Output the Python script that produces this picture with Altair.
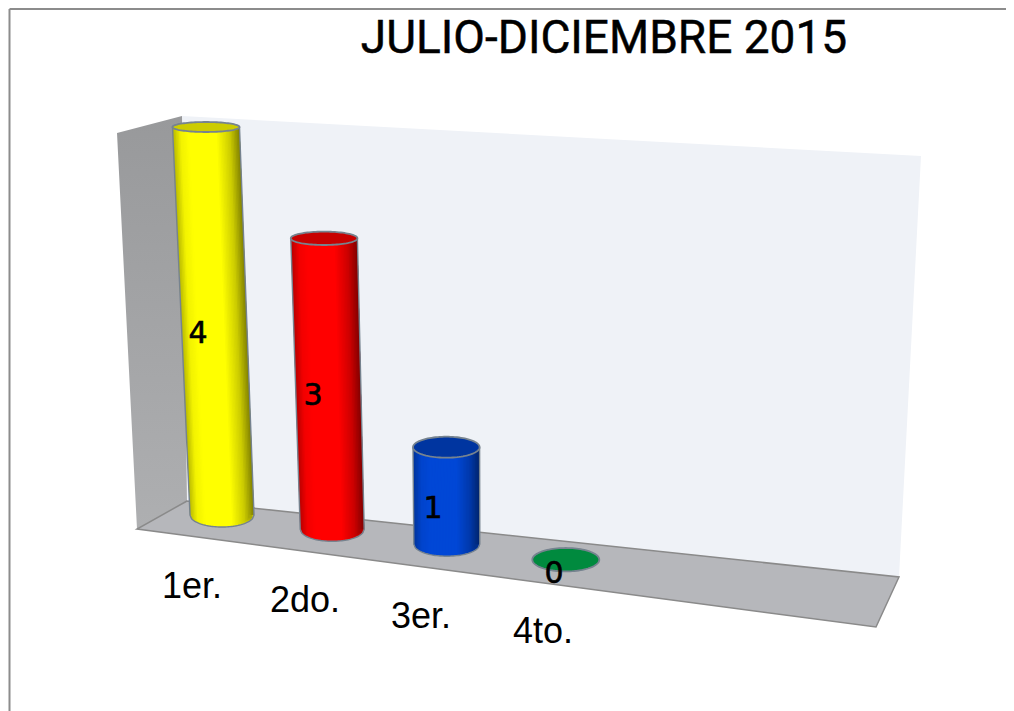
import math
import altair as alt
import numpy as np
import pandas as pd

TITLE = "JULIO-DICIEMBRE 2015"
CATEGORIES = ["1er.", "2do.", "3er.", "4to."]
VALUES = [4, 3, 1, 0]
BODY_COLORS = [(255, 255, 0), (255, 0, 0), (0, 71, 214), (0, 138, 62)]
CAP_COLORS = ["#cccc00", "#c80000", "#0035a0", "#008a3e"]

# picture-space projection of the 3-D box
UNIT = 97.0
LEAN = [-4.0, -2.7, -0.5, 0.0]
BASE_R = [32.0, 32.0, 33.0, 33.5]
TOP_R = [33.5, 33.3, 33.3, 33.5]
CAP_RY = [5.0, 6.7, 10.5, 11.7]
BASE_RY = 12.0
LEFT_WALL = [(117, 133), (182, 116), (187, 501), (137, 529)]
BACK_WALL = [(182, 116), (921, 156), (899, 577), (187, 501)]
FLOOR = [(137, 529), (187, 501), (899, 577), (876, 627)]
LABEL_POS = [(192, 587), (305, 601), (421, 617), (543, 632)]
VALUE_POS = [(198, 334), (313, 396), (433, 509), (554, 574)]
SHADE_T = [0.0, 0.12, 0.25, 0.65, 0.85, 1.0]
SHADE_F = [0.72, 0.95, 1.0, 1.0, 0.8, 0.5]


def base_x(i):
    return 222 + 108 * i + 2.2 * i * i


def base_y(i):
    return 515 + 14 * i + 0.3 * i * i


def polygon(points):
    """Convex polygon as left/right chains over its sorted y breakpoints."""
    ys = sorted({p[1] for p in points})
    rows = []
    n = len(points)
    for y in ys:
        xs = []
        for k in range(n):
            (x0, y0), (x1, y1) = points[k], points[(k + 1) % n]
            if min(y0, y1) <= y <= max(y0, y1):
                if y0 == y1:
                    xs += [x0, x1]
                else:
                    xs.append(x0 + (y - y0) * (x1 - x0) / (y1 - y0))
        rows.append({"y": y, "x": min(xs), "x2": max(xs)})
    return pd.DataFrame(rows)


def ellipse(cx, cy, rx, ry, n=48):
    rows = []
    for k in range(n + 1):
        a = -math.pi / 2 + math.pi * k / n
        rows.append({"y": cy + ry * math.sin(a), "x": cx - rx * math.cos(a), "x2": cx + rx * math.cos(a)})
    return pd.DataFrame(rows)


X = alt.X("x:Q", scale=alt.Scale(domain=[8, 1006], nice=False, zero=False), axis=None)
Y = alt.Y("y:Q", scale=alt.Scale(domain=[8, 711], nice=False, zero=False, reverse=True), axis=None)
X2 = alt.X2("x2:Q")


def area(df, **kw):
    return alt.Chart(df).mark_area(orient="horizontal", **kw).encode(x=X, x2=X2, y=Y)


layers = []
layers.append(area(polygon(BACK_WALL), color="#eff2f7"))
layers.append(area(polygon(LEFT_WALL), color=alt.Gradient(
    gradient="linear", x1=0, x2=0, y1=0, y2=1,
    stops=[alt.GradientStop(offset=0, color="#98999b"), alt.GradientStop(offset=1, color="#aeafb1")])))
layers.append(area(polygon(FLOOR), color="#b6b7bb", stroke="#8a8a8a", strokeWidth=1.5))

strips, outline = [], []
for i, v in enumerate(VALUES):
    if v <= 0:
        continue
    bx, by = base_x(i), base_y(i)
    tx, ty = bx + LEAN[i] * v, by - UNIT * v
    n = 44
    # solid silhouette under the shading strips
    sil_c = "#%02x%02x%02x" % tuple(int(ch * 0.85) for ch in BODY_COLORS[i])
    sil = [{"y": ty, "x": tx - TOP_R[i], "x2": tx + TOP_R[i]}, {"y": by, "x": bx - BASE_R[i], "x2": bx + BASE_R[i]}]
    for k in range(1, 25):
        a = math.pi / 2 * k / 24
        sil.append({"y": by + BASE_RY * math.sin(a), "x": bx - BASE_R[i] * math.cos(a), "x2": bx + BASE_R[i] * math.cos(a)})
    layers.append(area(pd.DataFrame(sil), color=sil_c))
    for k in range(n):
        t0, t1 = -1 + 2 * k / n, min(-1 + 2 * (k + 3) / n, 1.0)
        tm = -1 + 2 * (k + 0.5) / n
        f = float(np.interp((tm + 1) / 2, SHADE_T, SHADE_F))
        c = "#%02x%02x%02x" % tuple(int(round(ch * f)) for ch in BODY_COLORS[i])
        yb = by + BASE_RY * math.sqrt(max(0.0, 1 - max(t0 * t0, t1 * t1)))
        key = f"{i}-{k:03d}"
        strips.append({"s": key, "c": c, "y": ty, "x": tx + TOP_R[i] * t0, "x2": tx + TOP_R[i] * t1})
        strips.append({"s": key, "c": c, "y": yb, "x": bx + BASE_R[i] * t0, "x2": bx + BASE_R[i] * t1})
    o = 0
    outline.append({"i": i, "o": o, "x": tx - TOP_R[i], "y": ty})
    for k in range(41):
        t = -1 + 2 * k / 40
        o += 1
        outline.append({"i": i, "o": o, "x": bx + BASE_R[i] * t, "y": by + BASE_RY * math.sqrt(max(0.0, 1 - t * t))})
    outline.append({"i": i, "o": o + 1, "x": tx + TOP_R[i], "y": ty})

layers.append(alt.Chart(pd.DataFrame(strips)).mark_area(orient="horizontal").encode(
    x=X, x2=X2, y=Y, color=alt.Color("c:N", scale=None), detail="s:N"))
layers.append(alt.Chart(pd.DataFrame(outline)).mark_line(color="#76838f", strokeWidth=1.4).encode(
    x=X, y=Y, detail="i:N", order="o:Q"))

for i, v in enumerate(VALUES):
    cx = base_x(i) + LEAN[i] * v
    cy = base_y(i) - UNIT * v
    layers.append(area(ellipse(cx, cy, TOP_R[i], CAP_RY[i]), color=CAP_COLORS[i], stroke="#76838f", strokeWidth=1.8))

labels = pd.DataFrame({"t": CATEGORIES, "x": [p[0] for p in LABEL_POS], "y": [p[1] for p in LABEL_POS]})
layers.append(alt.Chart(labels).mark_text(font="Liberation Sans", fontSize=36, color="#000000", baseline="middle", align="center").encode(x=X, y=Y, text="t:N"))
vals = pd.DataFrame({"t": [str(v) for v in VALUES], "x": [p[0] for p in VALUE_POS], "y": [p[1] for p in VALUE_POS]})
layers.append(alt.Chart(vals).mark_text(font="DejaVu Sans", fontSize=30, color="#000000", stroke="#000000", strokeWidth=0.6, baseline="middle", align="center").encode(x=X, y=Y, text="t:N"))
layers.append(alt.Chart(pd.DataFrame({"t": [TITLE], "x": [604], "y": [39]})).mark_text(font="Roboto", fontSize=46, color="#000000", stroke="#000000", strokeWidth=0.5, baseline="middle", align="center").encode(x=X, y=Y, text="t:N"))

border_v = pd.DataFrame({"x": [9.5, 9.5], "y": [9, 711]})
border_h = pd.DataFrame({"x": [9.5, 1006], "y": [9, 9]})
for b in (border_v, border_h):
    layers.append(alt.Chart(b).mark_line(color="#8c8c8c", strokeWidth=2).encode(x=X, y=Y))

chart = alt.layer(*layers).properties(
    width=998, height=703, padding=0, background="#ffffff",
    autosize=alt.AutoSizeParams(type="none"),
).configure_view(stroke=None)

chart.save("out.html", embed_options={"renderer": "svg", "actions": False})
